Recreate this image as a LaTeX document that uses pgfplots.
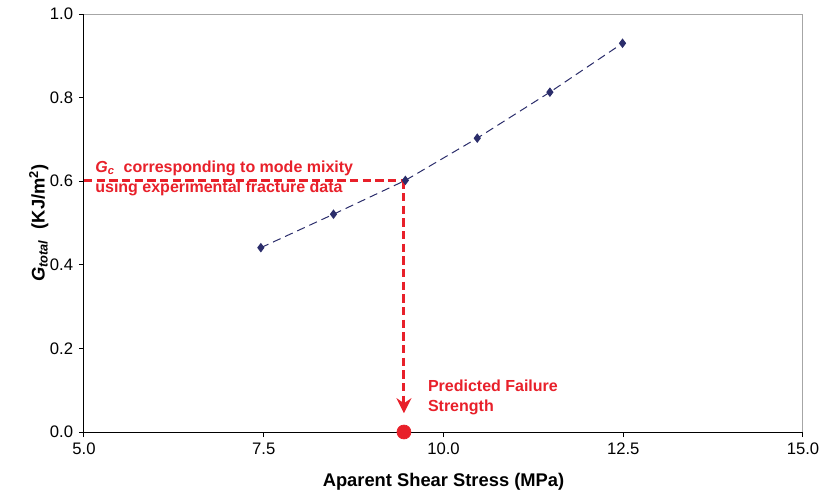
\documentclass[border=0pt]{standalone}
\usepackage{pgfplots}
\pgfplotsset{compat=1.18}
\usepackage{fontspec}
\setmainfont{Liberation Sans}
\usetikzlibrary{arrows.meta}
\definecolor{navy}{HTML}{2B2D6B}
\definecolor{ared}{HTML}{E8202A}
\begin{document}
\begin{tikzpicture}
\useasboundingbox (-50.4pt,-41.4pt) rectangle (443.4pt,259.2pt);
\begin{axis}[
  at={(0,0)}, anchor=south west,
  scale only axis, width=431.4pt, height=250.8pt,
  xmin=5, xmax=15, ymin=0, ymax=1.0,
  xtick={5,7.5,10,12.5,15}, ytick={0,0.2,0.4,0.6,0.8,1.0},
  xticklabel style={/pgf/number format/.cd, fixed, fixed zerofill, precision=1},
  yticklabel style={/pgf/number format/.cd, fixed, fixed zerofill, precision=1},
  /pgf/number format/assume math mode=true,
  ticklabel style={font=\fontsize{10}{12}\selectfont},
  tick align=outside, tick style={black, line width=0.6pt},
  major tick length=3pt,
  axis x line*=bottom, axis y line*=left,
  axis line style={black, line width=0.6pt},
  clip=false,
  xlabel={\textbf{Aparent Shear Stress (MPa)}},
  xlabel style={font=\fontsize{11}{13}\selectfont, yshift=-4pt},
  ylabel={\textbf{\textit{G}\textsubscript{\textit{total}}\ \ (KJ/m\textsuperscript{2})}},
  ylabel style={font=\fontsize{11}{13}\selectfont, yshift=-6pt},
]
\draw[gray!70, line width=0.6pt] (axis cs:5,1) -- (axis cs:15,1) -- (axis cs:15,0);
\addplot[navy, line width=0.6pt, dash pattern=on 5pt off 3pt, mark=diamond*, mark size=2.4pt,
  mark options={solid, fill=navy}] coordinates {
  (7.46,0.441) (8.47,0.521) (9.47,0.602) (10.47,0.703) (11.48,0.813) (12.49,0.930)};
\addplot[ared, line width=1.8pt, dash pattern=on 5pt off 2.6pt] coordinates {(5,0.602) (9.45,0.602)};
\addplot[ared, line width=1.8pt, dash pattern=on 5pt off 2.6pt, -{Stealth[length=9pt,width=9pt,inset=3pt]}] coordinates {(9.45,0.602) (9.45,0.045)};
\addplot[ared, only marks, mark=*, mark size=4.2pt] coordinates {(9.45,0)};
\node[anchor=base west, inner sep=0pt, ared, font=\fontsize{9.6}{11}\selectfont\bfseries] at (axis cs:5.153,0.622) {\textit{G}\textsubscript{\textit{c}}\ \ corresponding to mode mixity};
\node[anchor=base west, inner sep=0pt, ared, font=\fontsize{9.6}{11}\selectfont\bfseries] at (axis cs:5.153,0.574) {using experimental fracture data};
\node[anchor=base west, inner sep=0pt, ared, font=\fontsize{9.6}{11}\selectfont\bfseries] at (axis cs:9.78,0.096) {Predicted Failure};
\node[anchor=base west, inner sep=0pt, ared, font=\fontsize{9.6}{11}\selectfont\bfseries] at (axis cs:9.78,0.050) {Strength};
\end{axis}
\end{tikzpicture}
\end{document}
